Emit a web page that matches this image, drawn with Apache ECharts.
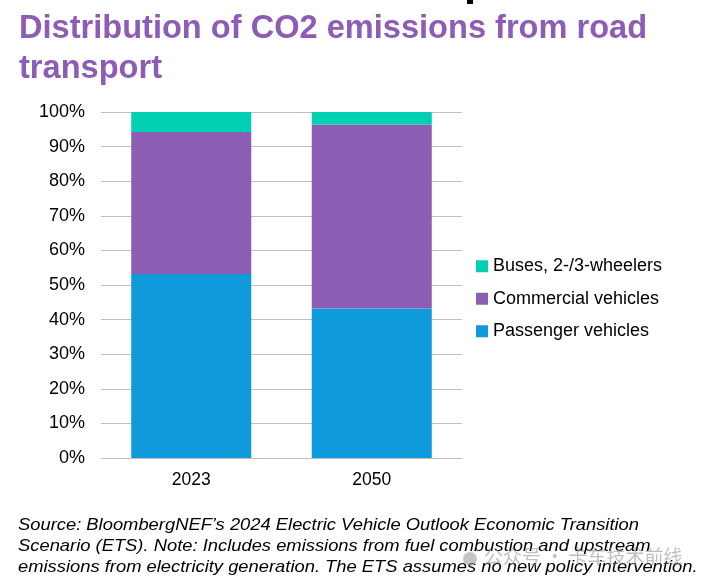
<!DOCTYPE html>
<html>
<head>
<meta charset="utf-8">
<script src="https://cdn.jsdelivr.net/npm/echarts@6/dist/echarts.min.js"></script>
<style>
html,body{margin:0;padding:0;background:#fff;}
#c{width:712px;height:588px;}
</style>
</head>
<body>
<div id="c"></div>
<script>
var categories = ['2023', '2050'];
var passengerVehicles = [53.2, 43.2];
var commercialVehicles = [41.0, 53.2];
var busesWheelers = [5.8, 3.6];
var seriesNames = ['Passenger vehicles', 'Commercial vehicles', 'Buses, 2-/3-wheelers'];
var legendOrder = ['Buses, 2-/3-wheelers', 'Commercial vehicles', 'Passenger vehicles'];

var font = '"Liberation Sans", Arial, sans-serif';
var chart = echarts.init(document.getElementById('c'));
chart.setOption({
  animation: false,
  backgroundColor: '#ffffff',
  title: {
    text: 'Distribution of CO2 emissions from road\ntransport',
    left: 14,
    top: 4,
    textStyle: {
      color: '#8C5CB6',
      fontFamily: font,
      fontWeight: 'bold',
      fontSize: 32.6,
      lineHeight: 40
    }
  },
  grid: { left: 101, right: 250, top: 112, bottom: 130 },
  legend: {
    orient: 'vertical',
    left: 471,
    top: 251,
    itemWidth: 12,
    itemHeight: 12,
    itemGap: 12,
    icon: 'rect',
    data: legendOrder,
    textStyle: { color: '#000', fontFamily: font, fontSize: 18, lineHeight: 20.5 }
  },
  xAxis: {
    type: 'category',
    data: categories,
    axisLine: { lineStyle: { color: '#BFBFBF', width: 1 } },
    axisTick: { show: false },
    axisLabel: { color: '#000', fontFamily: font, fontSize: 17.5, margin: 13 }
  },
  yAxis: {
    type: 'value',
    min: 0,
    max: 100,
    interval: 10,
    axisLine: { show: false },
    axisTick: { show: false },
    splitLine: { lineStyle: { color: '#BFBFBF', width: 1 } },
    axisLabel: { color: '#000', fontFamily: font, fontSize: 18, margin: 16, formatter: '{value}%' }
  },
  series: [
    { name: seriesNames[0], type: 'bar', stack: 'total', data: passengerVehicles, barWidth: 120, itemStyle: { color: '#0F9BDB' } },
    { name: seriesNames[1], type: 'bar', stack: 'total', data: commercialVehicles, barWidth: 120, itemStyle: { color: '#8B5EB4' } },
    { name: seriesNames[2], type: 'bar', stack: 'total', data: busesWheelers, barWidth: 120, itemStyle: { color: '#00CFB4' } }
  ],
  graphic: [
    {
      type: 'rect',
      shape: { x: 467, y: 0, width: 6, height: 4 },
      style: { fill: '#000' }
    },
    {
      type: 'text',
      x: 18,
      y: 515,
      scaleX: 1.12,
      style: {
        text: "Source: BloombergNEF\u2019s 2024 Electric Vehicle Outlook Economic Transition\nScenario (ETS). Note: Includes emissions from fuel combustion and upstream\nemissions from electricity generation. The ETS assumes no new policy intervention.",
        fill: '#000',
        font: 'italic 16.4px "Liberation Sans", Arial, sans-serif',
        lineHeight: 21
      }
    },
    {
      type: 'circle',
      shape: { cx: 470, cy: 559, r: 7 },
      style: { fill: 'rgba(140,140,140,0.5)' }
    },
    {
      type: 'text',
      left: 484,
      top: 547,
      style: {
        text: '公众号 · 卡车技术前线',
        fill: 'rgba(140,140,140,0.55)',
        font: '19px "Noto Sans CJK SC", sans-serif'
      }
    }
  ]
});
</script>
</body>
</html>
